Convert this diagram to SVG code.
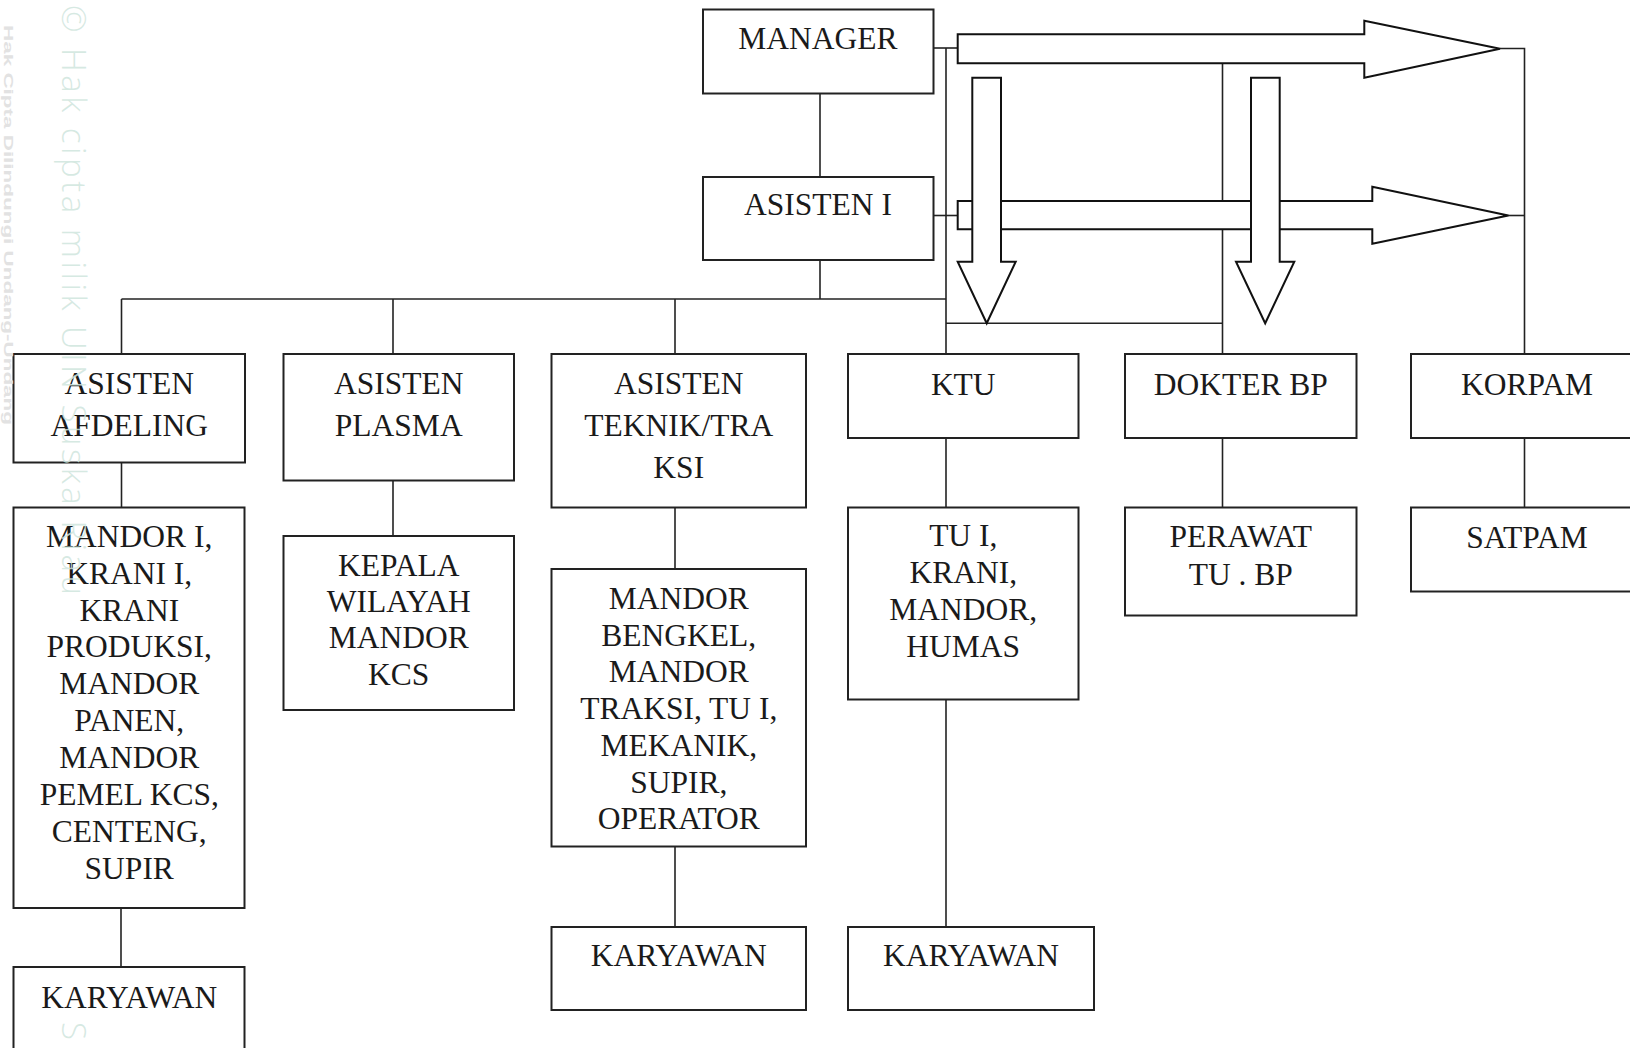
<svg xmlns="http://www.w3.org/2000/svg" width="1630" height="1048" viewBox="0 0 1630 1048">
<style>
.box{fill:#fff;stroke:#222;stroke-width:2}
.t{font-family:"Liberation Serif","Times New Roman",serif;font-size:31.5px;fill:#1a1a1a;text-anchor:middle}
.ln{fill:none;stroke:#222;stroke-width:1.6}
.ar{fill:#fff;stroke:#111;stroke-width:2;stroke-linejoin:miter}
.wm{font-family:"Open Sans","Liberation Sans",sans-serif;font-weight:300;font-size:33px;fill:#cfe5dd;fill-opacity:0.85}
.wm2{font-family:"Liberation Sans",sans-serif;font-weight:bold;font-size:12px;fill:#e2e2e2}
</style>
<rect width="1630" height="1048" fill="#fff"/>
<g id="connectors">
<line class="ln" x1="820" y1="93" x2="820" y2="177"/>
<line class="ln" x1="820" y1="260" x2="820" y2="299"/>
<line class="ln" x1="121.5" y1="299" x2="946" y2="299"/>
<line class="ln" x1="121.5" y1="299" x2="121.5" y2="354"/>
<line class="ln" x1="393" y1="299" x2="393" y2="354"/>
<line class="ln" x1="675" y1="299" x2="675" y2="354"/>
<line class="ln" x1="946" y1="48" x2="946" y2="354"/>
<line class="ln" x1="933" y1="48" x2="958" y2="48"/>
<line class="ln" x1="933" y1="215.5" x2="958" y2="215.5"/>
<line class="ln" x1="1222.5" y1="63.3" x2="1222.5" y2="354"/>
<line class="ln" x1="946" y1="323.3" x2="1222.5" y2="323.3"/>
<polyline class="ln" points="1500,48.5 1524.5,48.5 1524.5,354"/>
<line class="ln" x1="1508" y1="215.5" x2="1524.5" y2="215.5"/>
<line class="ln" x1="121.5" y1="462" x2="121.5" y2="507.5"/>
<line class="ln" x1="121" y1="908" x2="121" y2="967"/>
<line class="ln" x1="393" y1="480.5" x2="393" y2="536"/>
<line class="ln" x1="675" y1="507.5" x2="675" y2="569"/>
<line class="ln" x1="675" y1="846.5" x2="675" y2="927"/>
<line class="ln" x1="946" y1="438" x2="946" y2="507.5"/>
<line class="ln" x1="946" y1="699.5" x2="946" y2="927"/>
<line class="ln" x1="1222.5" y1="438" x2="1222.5" y2="507.5"/>
<line class="ln" x1="1524.5" y1="438" x2="1524.5" y2="507.5"/>
<polygon class="ar" points="957.7,34.3 1364.3,34.3 1364.3,20.7 1500,48.8 1364.3,77.7 1364.3,63.3 957.7,63.3"/>
<polygon class="ar" points="957.7,201 1372.3,201 1372.3,186.7 1508.3,215.5 1372.3,243.7 1372.3,229.3 957.7,229.3"/>
<polygon class="ar" points="972.3,77.7 1001,77.7 1001,261.7 1015.7,261.7 986.7,323.3 957.7,261.7 972.3,261.7"/>
<polygon class="ar" points="1251,77.7 1279.7,77.7 1279.7,261.7 1294.3,261.7 1265.2,323.3 1236,261.7 1251,261.7"/>
</g>
<g id="manager"><rect class="box" x="703" y="9.5" width="230.5" height="84"/><text class="t" x="818" y="49">MANAGER</text></g>
<g id="asisten-i"><rect class="box" x="703" y="177" width="230.5" height="83"/><text class="t" x="818" y="215">ASISTEN I</text></g>
<g id="asisten-afdeling"><rect class="box" x="13.5" y="354" width="231.5" height="108.5"/><text class="t" x="129.25" y="393.5">ASISTEN</text><text class="t" x="129.25" y="435.7">AFDELING</text></g>
<g id="asisten-plasma"><rect class="box" x="283.5" y="354" width="230.5" height="126.5"/><text class="t" x="398.75" y="393.5">ASISTEN</text><text class="t" x="398.75" y="435.7">PLASMA</text></g>
<g id="asisten-teknik"><rect class="box" x="551.5" y="354" width="254.5" height="153.5"/><text class="t" x="678.75" y="394">ASISTEN</text><text class="t" x="678.75" y="435.7">TEKNIK/TRA</text><text class="t" x="678.75" y="478.3">KSI</text></g>
<g id="ktu"><rect class="box" x="848" y="354" width="230.5" height="84"/><text class="t" x="963.25" y="395">KTU</text></g>
<g id="dokter-bp"><rect class="box" x="1125" y="354" width="231.5" height="84"/><text class="t" x="1240.75" y="395">DOKTER BP</text></g>
<g id="korpam"><rect class="box" x="1411" y="354" width="232" height="84"/><text class="t" x="1527" y="395">KORPAM</text></g>
<g id="mandor-afdeling"><rect class="box" x="13.5" y="507.5" width="231" height="400.5"/>
<text class="t" x="129.25" y="546.7">MANDOR I,</text><text class="t" x="129.25" y="583.6">KRANI I,</text><text class="t" x="129.25" y="620.5">KRANI</text><text class="t" x="129.25" y="657.4">PRODUKSI,</text><text class="t" x="129.25" y="694.3">MANDOR</text><text class="t" x="129.25" y="731.2">PANEN,</text><text class="t" x="129.25" y="768.1">MANDOR</text><text class="t" x="129.25" y="805">PEMEL KCS,</text><text class="t" x="129.25" y="841.9">CENTENG,</text><text class="t" x="129.25" y="878.8">SUPIR</text></g>
<g id="kepala-wilayah"><rect class="box" x="283.5" y="536" width="230.5" height="174"/><text class="t" x="398.75" y="575.7">KEPALA</text><text class="t" x="398.75" y="612">WILAYAH</text><text class="t" x="398.75" y="648.3">MANDOR</text><text class="t" x="398.75" y="684.6">KCS</text></g>
<g id="mandor-bengkel"><rect class="box" x="551.5" y="569" width="254.5" height="277.5"/>
<text class="t" x="678.75" y="609">MANDOR</text><text class="t" x="678.75" y="645.7">BENGKEL,</text><text class="t" x="678.75" y="682.4">MANDOR</text><text class="t" x="678.75" y="719.1">TRAKSI, TU I,</text><text class="t" x="678.75" y="755.8">MEKANIK,</text><text class="t" x="678.75" y="792.5">SUPIR,</text><text class="t" x="678.75" y="829.2">OPERATOR</text></g>
<g id="tu-i"><rect class="box" x="848" y="507.5" width="230.5" height="192"/><text class="t" x="963.25" y="546">TU I,</text><text class="t" x="963.25" y="582.9">KRANI,</text><text class="t" x="963.25" y="619.8">MANDOR,</text><text class="t" x="963.25" y="656.7">HUMAS</text></g>
<g id="perawat"><rect class="box" x="1125" y="507.5" width="231.5" height="108"/><text class="t" x="1240.75" y="546.7">PERAWAT</text><text class="t" x="1240.75" y="585">TU . BP</text></g>
<g id="satpam"><rect class="box" x="1411" y="507.5" width="232" height="84"/><text class="t" x="1527" y="547.7">SATPAM</text></g>
<g id="karyawan-afdeling"><rect class="box" x="13.5" y="967" width="231" height="100"/><text class="t" x="129.25" y="1007.7">KARYAWAN</text></g>
<g id="karyawan-teknik"><rect class="box" x="551.5" y="927" width="254.5" height="83"/><text class="t" x="678.75" y="966">KARYAWAN</text></g>
<g id="karyawan-ktu"><rect class="box" x="848" y="927" width="246" height="83"/><text class="t" x="971" y="966">KARYAWAN</text></g>
<g id="watermark">
<text class="wm2" transform="translate(4,25) rotate(90)" textLength="400" lengthAdjust="spacingAndGlyphs">Hak Cipta Dilindungi Undang-Undang</text>
<text class="wm" transform="translate(62,5) rotate(90)" textLength="590" lengthAdjust="spacing">© Hak cipta milik UIN Suska Riau</text>
<text class="wm" transform="translate(62,1022) rotate(90)">S</text>
</g>
</svg>
